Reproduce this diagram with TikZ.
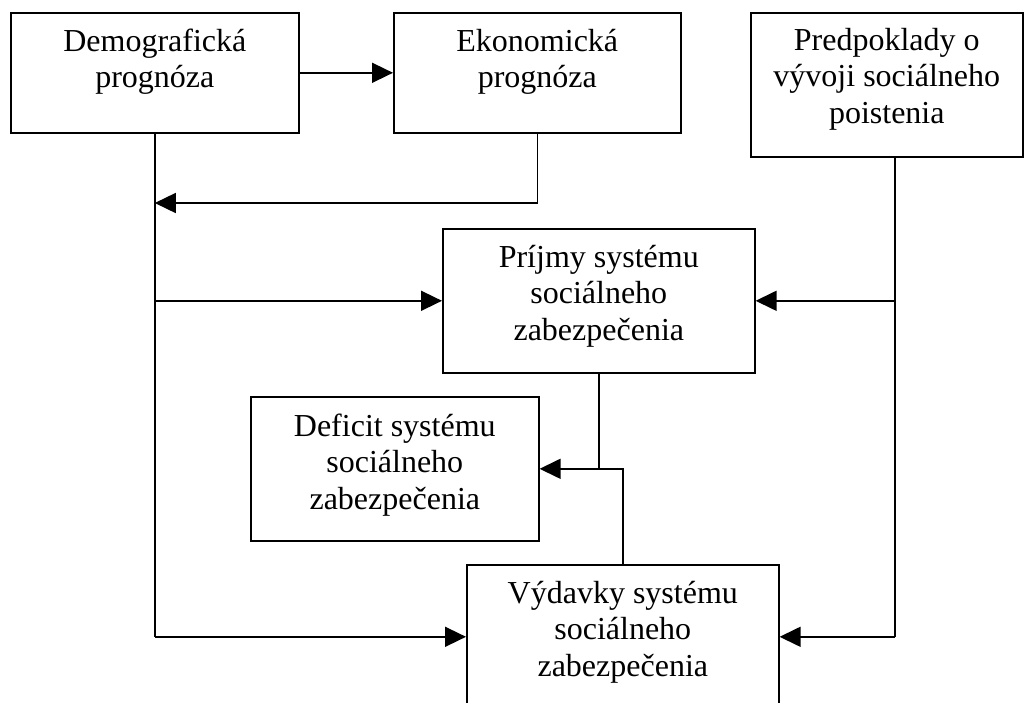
\documentclass[tikz,border=0pt]{standalone}
\usepackage{fontspec}
\setmainfont{Liberation Serif}
\usetikzlibrary{arrows.meta}
\tikzset{
  box/.style={draw, line width=1.6pt, inner sep=0pt, anchor=north west},
  txt/.style={inner sep=0pt, anchor=north, align=center, font=\fontsize{32}{36.5}\selectfont},
  link/.style={line width=1.6pt},
  arr/.style={line width=1.6pt, -{Triangle[length=21pt,width=20pt]}}
}
\newcommand{\topstrut}{\rule{0pt}{32pt}}
\begin{document}
\begin{tikzpicture}[x=1pt,y=-1pt]
\useasboundingbox (0,0) rectangle (1030,702);
% boxes
\node[box, minimum width=288pt, minimum height=120pt] (D) at (10,12) {};
\node[box, minimum width=287pt, minimum height=120pt] (E) at (393,12) {};
\node[box, minimum width=272pt, minimum height=144pt] (P) at (750,12) {};
\node[box, minimum width=312pt, minimum height=144pt] (R) at (442,228) {};
\node[box, minimum width=288pt, minimum height=144pt] (F) at (250,396) {};
\node[box, minimum width=312pt, minimum height=144pt] (V) at (466,564) {};
% texts
\node[txt] (Dt) at ([yshift=-7pt]D.north) {\topstrut Demografická\\prognóza};
\node[txt] (Et) at ([yshift=-7pt]E.north) {\topstrut Ekonomická\\prognóza};
\node[txt] (Pt) at ([yshift=-6pt]P.north) {\topstrut Predpoklady o\\vývoji sociálneho\\poistenia};
\node[txt] (Rt) at ([yshift=-7pt]R.north) {\topstrut Príjmy systému\\sociálneho\\zabezpečenia};
\node[txt] (Ft) at ([yshift=-8pt]F.north) {\topstrut Deficit systému\\sociálneho\\zabezpečenia};
\node[txt] (Vt) at ([yshift=-7pt]V.north) {\topstrut Výdavky systému\\sociálneho\\zabezpečenia};
% helper coordinates
\coordinate (j1) at (154,203);
\coordinate (pl) at (895,156);
% connectors
\draw[arr] (D.east) -- (E.west);
\draw[arr] (E.south) -- (E.south |- j1) -- (D.south |- j1);
\draw[link] (D.south) -- (D.south |- V.west);
\draw[arr] (D.south |- V.west) -- (V.west);
\draw[arr] (D.south |- R.west) -- (R.west);
\draw[link] (pl) -- (pl |- V.east);
\draw[arr] (pl |- V.east) -- (V.east);
\draw[arr] (pl |- R.east) -- (R.east);
\draw[link] (R.south) -- (R.south |- F.east);
\draw[arr] (V.north) -- (V.north |- F.east) -- (F.east);
\end{tikzpicture}
\end{document}
